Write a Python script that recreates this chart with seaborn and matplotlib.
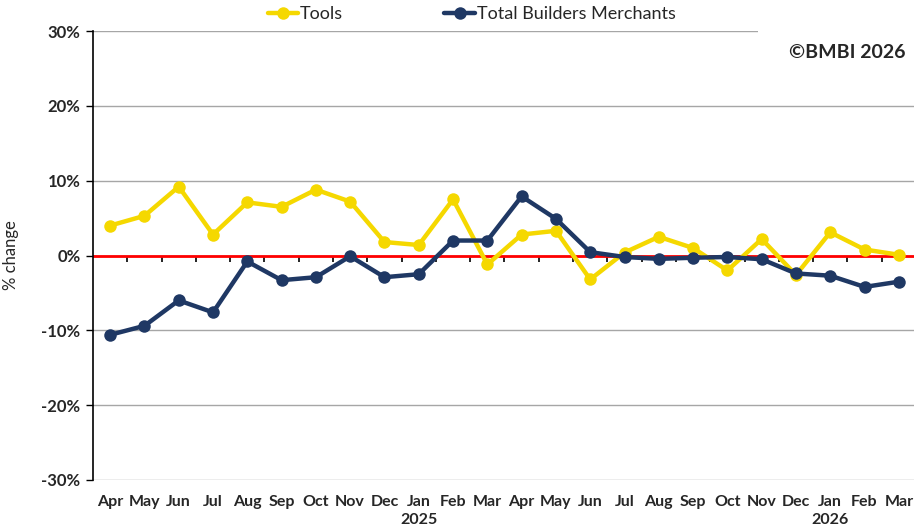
import numpy as np
import pandas as pd
import matplotlib
matplotlib.use("Agg")
import matplotlib.pyplot as plt
import seaborn as sns

# dados
months = ["Apr", "May", "Jun", "Jul", "Aug", "Sep", "Oct", "Nov", "Dec", "Jan", "Feb", "Mar",
          "Apr", "May", "Jun", "Jul", "Aug", "Sep", "Oct", "Nov", "Dec", "Jan", "Feb", "Mar"]
years = ["", "", "", "", "", "", "", "", "", "2025", "", "",
         "", "", "", "", "", "", "", "", "", "2026", "", ""]
tools = [4.0, 5.3, 9.2, 2.8, 7.1, 6.5, 8.8, 7.2, 1.8, 1.4, 7.5, -1.2,
         2.8, 3.3, -3.2, 0.4, 2.5, 1.0, -2.0, 2.2, -2.6, 3.1, 0.8, 0.1]
total_bm = [-10.6, -9.4, -6.0, -7.6, -0.8, -3.3, -2.9, -0.1, -2.9, -2.5, 2.0, 2.0,
            7.9, 4.9, 0.45, -0.2, -0.45, -0.3, -0.2, -0.5, -2.4, -2.7, -4.2, -3.5]
series_names = ["Tools", "Total Builders Merchants"]
colors = ["#F5D800", "#1F3864"]

sns.set_style("white")
plt.rcParams["font.family"] = ["Lato", "DejaVu Sans"]

idx = np.arange(len(months))
df = pd.DataFrame({
    "idx": np.concatenate([idx, idx]),
    "value": tools + total_bm,
    "series": [series_names[0]] * len(idx) + [series_names[1]] * len(idx),
})

fig = plt.figure(figsize=(9.14, 5.32), dpi=100)
ax = fig.add_axes([93 / 914, 1 - 480 / 532, 823 / 914, 449 / 532])

sns.lineplot(data=df, x="idx", y="value", hue="series", palette=colors,
             hue_order=series_names, marker="o", markersize=9, markeredgewidth=0,
             linewidth=3.2, ax=ax, legend=False, zorder=3)

# linha do zero
ax.axhline(0, color="#FF0000", linewidth=2, zorder=2)

ax.set_xlim(-0.5, len(months) - 0.5)
ax.set_ylim(-30, 30)
ax.set_yticks(np.arange(-30, 31, 10))
ax.set_yticklabels([f"{v}%" for v in range(-30, 31, 10)], fontsize=12, fontweight="bold")
ax.yaxis.grid(True, color="#A6A6A6", linewidth=1)
ax.set_axisbelow(True)
ax.tick_params(axis="y", direction="out", length=5, color="black", width=1, pad=4, left=True)

labels = [m + ("\n" + y if y else "") for m, y in zip(months, years)]
ax.set_xticks(idx)
ax.set_xticklabels(labels, fontsize=11.5, fontweight="bold", linespacing=1.35)
ax.tick_params(axis="x", length=0, pad=11)
ax.set_xlabel("")
ax.set_ylabel("% change", fontsize=12, labelpad=16)

for s in ["top", "right", "bottom"]:
    ax.spines[s].set_visible(False)
ax.spines["left"].set_color("black")
ax.spines["left"].set_linewidth(1.2)

# marcas no eixo zero
sec = ax.secondary_xaxis(0.5)
sec.set_xticks(idx[:-1] + 0.5)
sec.xaxis.set_ticks_position("bottom")
sec.tick_params(axis="x", direction="out", length=4, width=1.2, color="black",
                labelbottom=False, labeltop=False)
sec.spines["bottom"].set_visible(False)
sec.spines["top"].set_visible(False)

ax.text(0.987, 0.953, "©BMBI 2026", transform=ax.transAxes, ha="right", va="center",
        fontsize=14, fontweight="bold", zorder=5,
        bbox=dict(boxstyle="square,pad=1.6", facecolor="white", edgecolor="none"))

handles = [plt.Line2D([], [], color=c, marker="o", markersize=9, markeredgewidth=0, linewidth=3.2)
           for c in colors]
fig.legend(handles, series_names, loc="center", bbox_to_anchor=(0.516, 0.974), ncol=2,
           frameon=False, fontsize=13, handlelength=1.7, handletextpad=0.1,
           columnspacing=5.6)

fig.savefig("out.png", dpi=100)
